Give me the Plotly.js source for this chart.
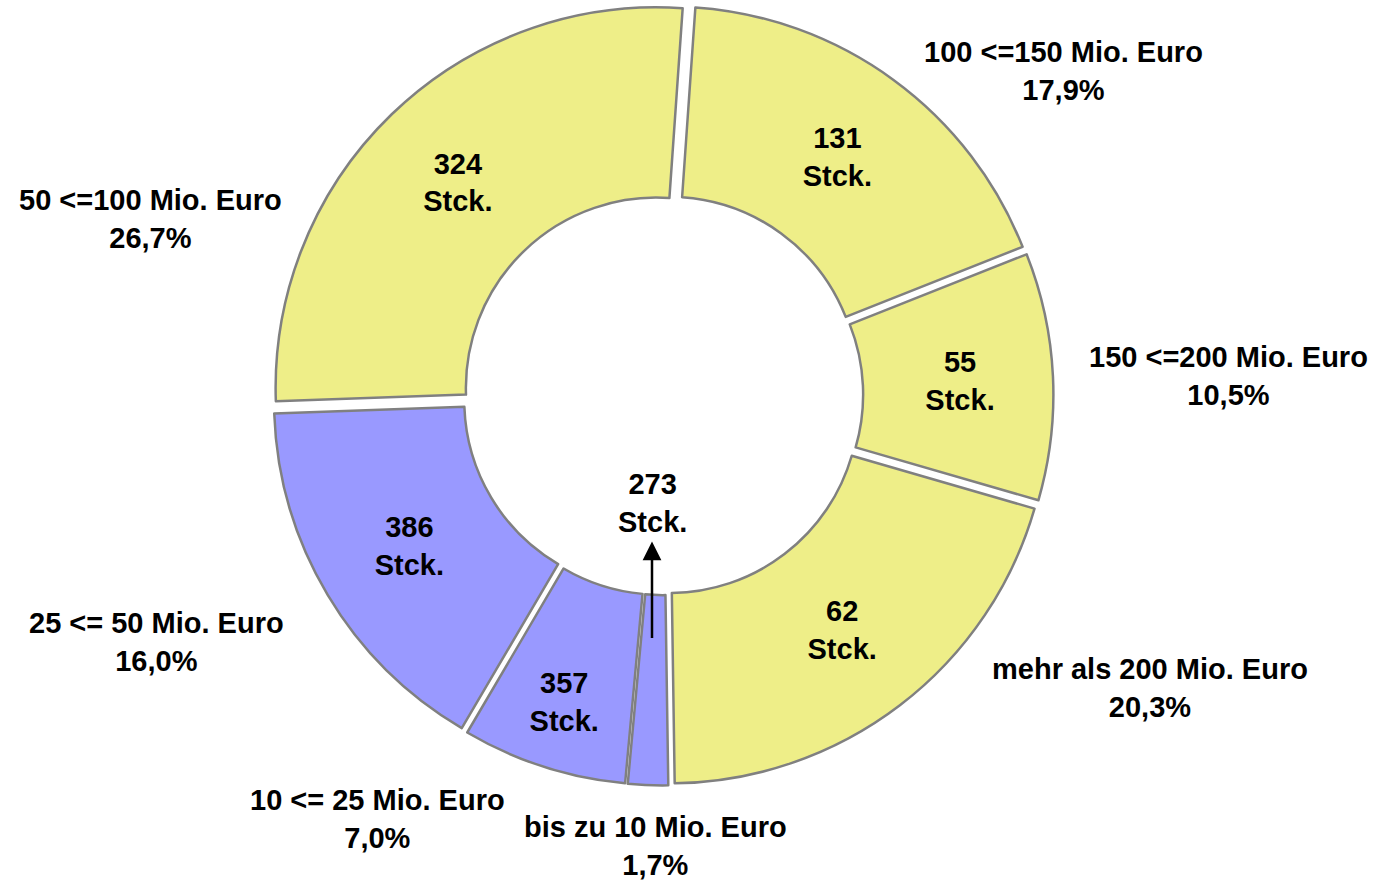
<!DOCTYPE html>
<html>
<head>
<meta charset="utf-8">
<script src="https://cdn.plot.ly/plotly-3.0.1.min.js"></script>
<style>html,body{margin:0;padding:0;background:#fff;}#chart{width:1375px;height:880px;}</style>
</head>
<body>
<div id="chart"></div>
<script>
// Data
var categories = ["100 <=150 Mio. Euro", "150 <=200 Mio. Euro", "mehr als 200 Mio. Euro", "bis zu 10 Mio. Euro", "10 <= 25 Mio. Euro", "25 <= 50 Mio. Euro", "50 <=100 Mio. Euro"];
var shares = [17.9, 10.5, 20.3, 1.7, 7.0, 16.0, 26.7];
var shareLabels = ["17,9%", "10,5%", "20,3%", "1,7%", "7,0%", "16,0%", "26,7%"];
var counts = [131, 55, 62, 273, 357, 386, 324];
var unit = "Stck.";

// Styling / layout helpers (not data)
var sliceColors = ["#EEEE88", "#EEEE88", "#EEEE88", "#9999FF", "#9999FF", "#9999FF", "#EEEE88"];
var insideShown = [true, true, true, false, true, true, true];
var labelPos = [[1063, 71], [1228, 376], [1150, 688], [655, 846], [377, 819], [156, 642], [150, 219]];
var W = 1375, H = 880;
var FONT = "Liberation Sans, Arial, sans-serif";
var FS = 29;

var trace = {
  type: "pie",
  labels: categories,
  values: shares,
  text: counts.map(function (c, i) { return insideShown[i] ? c + "<br>" + unit : ""; }),
  textinfo: "text",
  textposition: insideShown.map(function (s) { return s ? "inside" : "none"; }),
  insidetextorientation: "horizontal",
  insidetextfont: { family: FONT, size: FS, color: "#000", weight: "bold" },
  sort: false,
  direction: "clockwise",
  rotation: 4,
  hole: 0.5,
  pull: 0.026,
  marker: { colors: sliceColors, line: { color: "#808080", width: 2.5 } },
  domain: { x: [272.6 / W, 1053.4 / W], y: [1 - 785.4 / H, 1 - 4.6 / H] },
  hoverinfo: "none",
  showlegend: false
};

var annotations = categories.map(function (c, i) {
  return {
    xref: "paper", yref: "paper",
    x: labelPos[i][0] / W, y: 1 - labelPos[i][1] / H,
    xanchor: "center", yanchor: "middle",
    text: c + "<br>" + shareLabels[i],
    showarrow: false,
    font: { family: FONT, size: FS, color: "#000", weight: "bold" }
  };
});

// callout for the small slice (its count shown outside with an arrow)
var smallIdx = 3;
annotations.push({
  xref: "paper", yref: "paper",
  x: 652 / W, y: 1 - 638 / H,
  ax: 0, ay: -135,
  axref: "pixel", ayref: "pixel",
  text: counts[smallIdx] + "<br>" + unit,
  showarrow: true,
  arrowside: "start",
  startarrowhead: 2,
  startarrowsize: 1.5,
  arrowwidth: 2.5,
  arrowcolor: "#000",
  startstandoff: 2,
  font: { family: FONT, size: FS, color: "#000", weight: "bold" }
});

var layout = {
  width: W, height: H,
  margin: { l: 0, r: 0, t: 0, b: 0 },
  paper_bgcolor: "#fff",
  plot_bgcolor: "#fff",
  showlegend: false,
  annotations: annotations
};

Plotly.newPlot("chart", [trace], layout, { displayModeBar: false, staticPlot: true });
</script>
</body>
</html>
